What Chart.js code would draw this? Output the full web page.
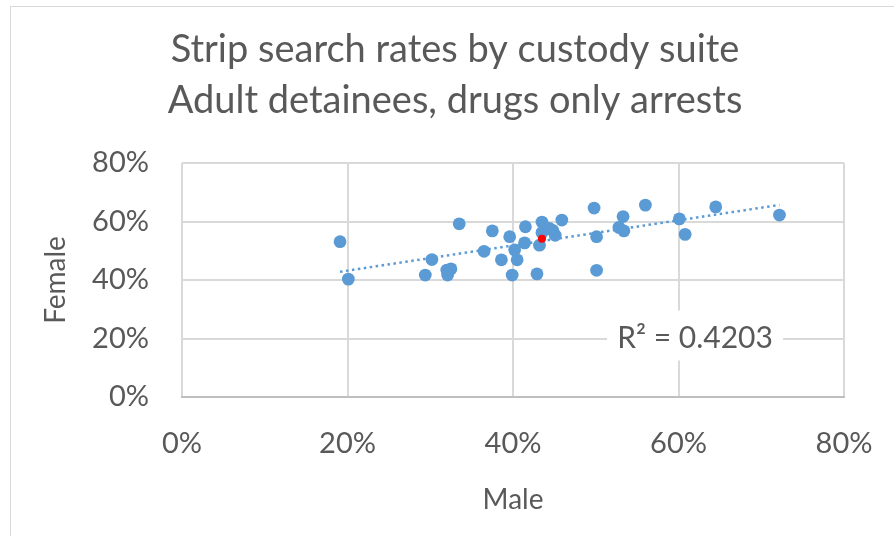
<!DOCTYPE html>
<html>
<head>
<meta charset="utf-8">
<script src="https://cdn.jsdelivr.net/npm/chart.js@4/dist/chart.umd.min.js"></script>
<style>
  html, body { margin: 0; padding: 0; background: #fff; overflow: hidden; }
  #frame { position: absolute; left: 10px; top: 6px; width: 1000px; height: 1000px; border: 1px solid #d9d9d9; }
  #wrap { position: absolute; left: 0; top: 0; width: 894px; height: 536px; }
</style>
</head>
<body>
<div id="frame"></div>
<div id="wrap"><canvas id="chart-strip" width="894" height="536"></canvas></div>
<script>
// strip search rates per custody suite (share of arrests)
const maleRate = [
  0.191, 0.201, 0.294, 0.302, 0.320, 0.325, 0.321, 0.335, 0.365, 0.375,
  0.386, 0.396, 0.399, 0.402, 0.405, 0.414, 0.415, 0.429, 0.435, 0.432,
  0.435, 0.444, 0.448, 0.451, 0.459, 0.498, 0.501, 0.501, 0.533, 0.528,
  0.534, 0.560, 0.601, 0.608, 0.645, 0.722,
]
const femaleRate = [
  0.531, 0.403, 0.417, 0.470, 0.434, 0.438, 0.417, 0.592, 0.498, 0.568,
  0.469, 0.548, 0.417, 0.503, 0.469, 0.527, 0.582, 0.421, 0.598, 0.519,
  0.562, 0.576, 0.570, 0.553, 0.605, 0.646, 0.548, 0.433, 0.617, 0.580,
  0.568, 0.656, 0.609, 0.556, 0.650, 0.622,
]
// highlighted suite (red marker)
const highlightMale = [0.435]
const highlightFemale = [0.541]

const titleLines = ['Strip search rates by custody suite', 'Adult detainees, drugs only arrests']
const rSquaredLabel = 'R\u00b2 = 0.4203'
const axisTicks = [0, 0.2, 0.4, 0.6, 0.8]

const grey = '#595959'
const blue = '#5b9bd5'

function toPoints(xs, ys) {
  return xs.map((x, i) => ({ x: x, y: ys[i] }))
}

// least squares line over the blue series, like the Excel trendline
function trendPoints(xs, ys) {
  const n = xs.length
  const mx = xs.reduce((a, b) => a + b, 0) / n
  const my = ys.reduce((a, b) => a + b, 0) / n
  let sxy = 0
  let sxx = 0
  xs.forEach((x, i) => {
    sxy += (x - mx) * (ys[i] - my)
    sxx += (x - mx) * (x - mx)
  })
  const slope = sxy / sxx
  const lo = Math.min(...xs)
  const hi = Math.max(...xs)
  return [
    { x: lo, y: my + slope * (lo - mx) },
    { x: hi, y: my + slope * (hi - mx) },
  ]
}

const titlePlugin = {
  id: 'titleLines',
  afterDraw(chart) {
    const ctx = chart.ctx
    ctx.save()
    ctx.font = '38px Lato'
    ctx.fillStyle = grey
    ctx.textAlign = 'center'
    ctx.textBaseline = 'middle'
    titleLines.forEach((line, i) => ctx.fillText(line, 455, 50 + i * 51))
    ctx.restore()
  },
}

const rSquaredPlugin = {
  id: 'rSquared',
  afterDatasetsDraw(chart) {
    const ctx = chart.ctx
    const cx = chart.scales.x.getPixelForValue(0.62)
    const cy = chart.scales.y.getPixelForValue(0.2)
    ctx.save()
    ctx.fillStyle = '#fff'
    ctx.fillRect(cx - 88, cy - 28, 176, 50)
    ctx.font = '30px Lato'
    ctx.fillStyle = grey
    ctx.textAlign = 'center'
    ctx.textBaseline = 'middle'
    ctx.fillText(rSquaredLabel, cx, cy)
    ctx.restore()
  },
}

const percent = (v) => Math.round(v * 100) + '%'
const tickFont = { family: 'Lato', size: 29 }

new Chart(document.getElementById('chart-strip'), {
  type: 'scatter',
  data: {
    datasets: [
      {
        label: 'Highlighted suite',
        data: toPoints(highlightMale, highlightFemale),
        backgroundColor: '#ff0000',
        borderWidth: 0,
        pointRadius: 4,
        order: 0,
      },
      {
        label: 'Custody suites',
        data: toPoints(maleRate, femaleRate),
        backgroundColor: blue,
        borderWidth: 0,
        pointRadius: 6.4,
        order: 1,
      },
      {
        type: 'line',
        label: 'Trend',
        data: trendPoints(maleRate, femaleRate),
        borderColor: blue,
        borderWidth: 2.5,
        borderDash: [2.5, 3.5],
        pointRadius: 0,
        fill: false,
        order: 2,
      },
    ],
  },
  options: {
    responsive: false,
    animation: false,
    layout: { padding: { top: 163, right: 50, left: 0, bottom: 0 } },
    plugins: {
      legend: { display: false },
      title: { display: false },
      tooltip: { enabled: false },
    },
    scales: {
      x: {
        type: 'linear',
        min: 0,
        max: 0.8,
        afterBuildTicks: (scale) => { scale.ticks = axisTicks.map((v) => ({ value: v })) },
        afterFit: (scale) => {
          scale.height = 139
          scale.paddingLeft = 0
          scale.paddingRight = 0
        },
        grid: { color: '#d9d9d9', lineWidth: 2, drawTicks: false },
        border: { color: '#bfbfbf', width: 2 },
        ticks: { padding: 29, color: grey, font: tickFont, callback: percent },
        title: { display: true, text: 'Male', color: grey, font: { family: 'Lato', size: 28 }, padding: { top: 0, bottom: 19 } },
      },
      y: {
        type: 'linear',
        min: 0,
        max: 0.8,
        afterBuildTicks: (scale) => { scale.ticks = axisTicks.map((v) => ({ value: v })) },
        afterFit: (scale) => { scale.width = 182 },
        grid: { color: '#d9d9d9', lineWidth: 2, drawTicks: false },
        border: { display: false },
        ticks: { padding: 33, color: grey, font: tickFont, callback: percent },
        title: { display: true, text: 'Female', color: grey, font: { family: 'Lato', size: 28 }, padding: { top: 39, bottom: 0 } },
      },
    },
  },
  plugins: [titlePlugin, rSquaredPlugin],
})
</script>
</body>
</html>
